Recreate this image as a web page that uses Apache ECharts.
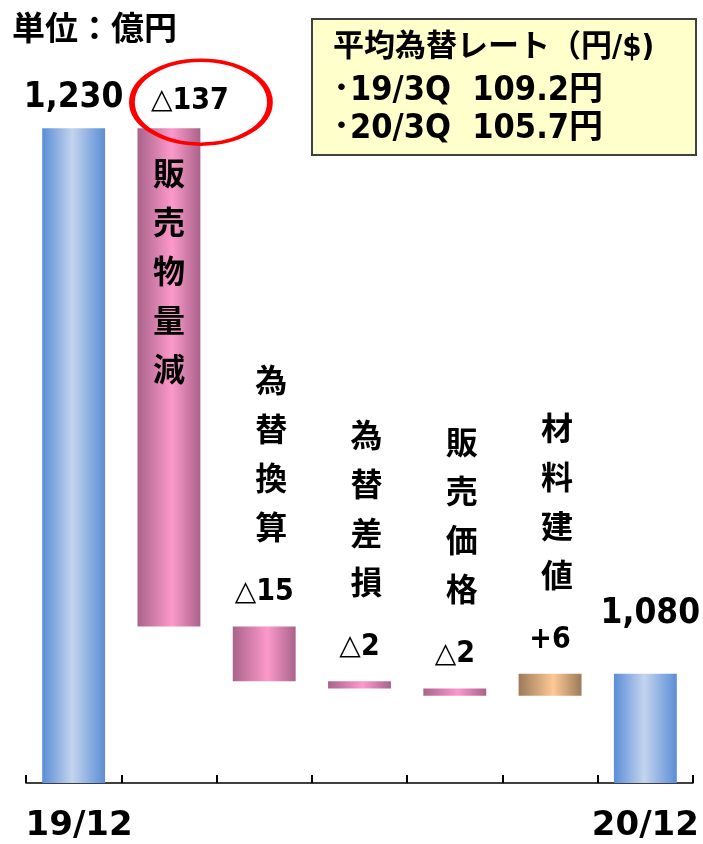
<!DOCTYPE html>
<html>
<head>
<meta charset="utf-8">
<script src="https://cdn.jsdelivr.net/npm/echarts@6/dist/echarts.min.js"></script>
<style>
html, body { margin: 0; padding: 0; background: #fff; }
#chart { width: 703px; height: 844px; }
</style>
</head>
<body>
<div id="chart"></div>
<script>
const categories = ['19/12', '販売物量減', '為替換算', '為替差損', '販売価格', '材料建値', '20/12']
const axisLabels = ['19/12', '', '', '', '', '', '20/12']
const changes = [1230, -137, -15, -2, -2, 6, 1080]
const kinds = ['total', 'down', 'down', 'down', 'down', 'up', 'total']
const rateLines = ['平均為替レート（円/$)', '･19/3Q  109.2円', '･20/3Q  105.7円']

const NUM_FONT = '"DejaVu Sans Condensed", "DejaVu Sans", "Noto Sans CJK JP", sans-serif'
const JP_FONT = '"Noto Sans CJK JP", sans-serif'

// waterfall: invisible base + visible step
const base = []
const step = []
let level = 0
changes.forEach((v, i) => {
  if (kinds[i] === 'total') {
    base.push(0); step.push(v); level = v
  } else if (v < 0) {
    level += v; base.push(level); step.push(-v)
  } else {
    base.push(level); step.push(v); level += v
  }
})

function grad(edge, mid, pos) {
  return {
    type: 'linear', x: 0, y: 0, x2: 1, y2: 0,
    colorStops: [
      { offset: 0, color: edge },
      { offset: pos, color: mid },
      { offset: 1, color: edge }
    ]
  }
}
const fills = {
  total: grad('#5a8ed6', '#c4d4ee', 0.48),
  down: grad('#a9638a', '#fc99cb', 0.55),
  up: grad('#9c7a5a', '#fdc995', 0.55)
}

function vertical(name) { return name.split('').join('\n') }
function deltaText(v) {
  return v < 0 ? '{tri|△}{val|' + Math.abs(v) + '}' : '{val|+' + v + '}'
}

const rich = {
  big: { fontFamily: NUM_FONT, fontWeight: 'bold', fontSize: 35, lineHeight: 36, color: '#000' },
  name: { fontFamily: JP_FONT, fontWeight: 'bold', fontSize: 32, lineHeight: 49, color: '#000', padding: [0, 0, 0, 14] },
  sp: { fontSize: 10, lineHeight: 21 },
  tri: { fontFamily: '"DejaVu Sans", sans-serif', fontWeight: 'normal', fontSize: 28, lineHeight: 40, color: '#000' },
  val: { fontFamily: NUM_FONT, fontWeight: 'bold', fontSize: 30, lineHeight: 40, color: '#000' }
}

const stepData = step.map((v, i) => {
  const item = { value: v, itemStyle: { color: fills[kinds[i]] } }
  if (kinds[i] === 'total') {
    item.label = {
      show: true, position: 'top', distance: i === 0 ? 12 : 42, offset: i === 0 ? [0, 0] : [5, 0],
      formatter: '{big|' + changes[i].toLocaleString('en-US') + '}', rich
    }
  } else if (i === 1) {
    item.label = {
      show: true, position: 'insideTop', distance: 20,
      formatter: '{name|' + vertical(categories[i]) + '}',
      rich: Object.assign({}, rich, { name: Object.assign({}, rich.name, { padding: 0 }) })
    }
  } else {
    item.label = {
      show: true, position: 'top', distance: 14,
      formatter: '{name|' + vertical(categories[i]) + '}\n{sp| }\n' + deltaText(changes[i]), rich
    }
  }
  return item
})

// the big drop's value sits in a circled callout above the bar
const calloutIdx = 1
const callout = [[calloutIdx, base[calloutIdx] + step[calloutIdx]]]

const chart = echarts.init(document.getElementById('chart'))
chart.setOption({
  animation: false,
  grid: { left: 26, right: 10, top: 19, bottom: 61, outerBoundsMode: 'none' },
  xAxis: {
    type: 'category',
    data: categories,
    axisLine: { show: true, lineStyle: { color: '#000', width: 1.5 } },
    axisTick: { show: true, interval: 0, alignWithLabel: false, inside: true, length: 8, lineStyle: { color: '#000', width: 2 } },
    axisLabel: {
      interval: 0, margin: 25,
      formatter: (v, i) => axisLabels[i] ? (i === 0 ? '{first|' + axisLabels[i] + '}' : axisLabels[i]) : '',
      rich: { first: { fontFamily: '"DejaVu Sans", sans-serif', fontWeight: 'bold', fontSize: 34, lineHeight: 36, color: '#000', padding: [0, 0, 0, 11] } },
      fontFamily: '"DejaVu Sans", sans-serif', fontWeight: 'bold', fontSize: 34, lineHeight: 36, color: '#000'
    }
  },
  yAxis: { type: 'value', min: 1050, max: 1260, show: false, splitLine: { show: false } },
  graphic: [
    {
      type: 'text', left: 12, top: 11,
      style: { text: '単位：億円', font: 'bold 33px "Noto Sans CJK JP"', fill: '#000' }
    },
    {
      type: 'group', left: 311, top: 18,
      children: [
        { type: 'rect', shape: { x: 0, y: 0, width: 384, height: 136 }, style: { fill: '#ffffcc', stroke: '#404040', lineWidth: 2 } },
        { type: 'text', x: 21, y: 29, style: { text: rateLines[0], font: 'bold 31px ' + NUM_FONT, fill: '#000', verticalAlign: 'middle' } },
        { type: 'text', x: 21, y: 72, style: { text: rateLines[1], font: 'bold 34px ' + NUM_FONT, fill: '#000', verticalAlign: 'middle' } },
        { type: 'text', x: 21, y: 110, style: { text: rateLines[2], font: 'bold 34px ' + NUM_FONT, fill: '#000', verticalAlign: 'middle' } }
      ]
    }
  ],
  series: [
    {
      type: 'bar', stack: 'wf', data: base, barWidth: '66%', silent: true,
      itemStyle: { color: 'rgba(0,0,0,0)' }
    },
    {
      type: 'bar', stack: 'wf', data: stepData, barWidth: '66%', silent: true
    },
    {
      // red ring round the drop value
      type: 'scatter', data: callout, silent: true, z: 5,
      symbol: 'circle', symbolSize: [138, 84], symbolOffset: [32, -26],
      itemStyle: { color: 'rgba(0,0,0,0)', borderColor: '#ff0000', borderWidth: 4.5, opacity: 1 },
      label: {
        show: true, position: 'inside', offset: [-11, -1], color: '#000',
        formatter: () => deltaText(changes[calloutIdx]), rich
      }
    }
  ]
})
</script>
</body>
</html>
